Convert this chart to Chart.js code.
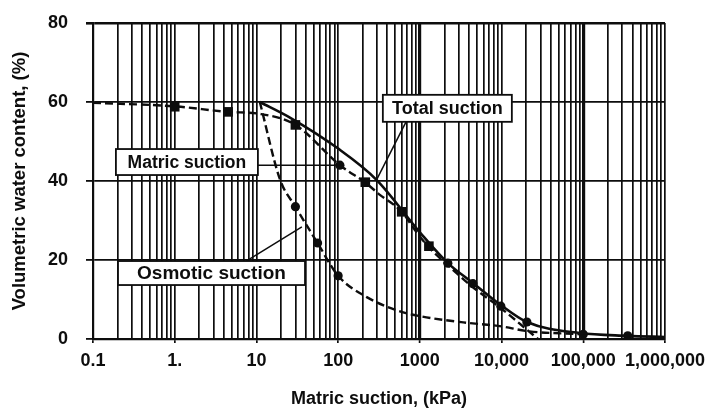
<!DOCTYPE html>
<html><head><meta charset="utf-8">
<script src="https://cdn.jsdelivr.net/npm/chart.js@4/dist/chart.umd.min.js"></script>
<style>html,body{margin:0;padding:0;background:#fff}</style>
</head><body>
<canvas id="c" width="716" height="410"></canvas>
<script>
// ---- data ----
const xTickValues = [0.1, 1, 10, 100, 1000, 10000, 100000, 1000000];
const xTickLabels = ['0.1', '1.', '10', '100', '1000', '10,000', '100,000', '1,000,000'];
const yTickValues = [0, 20, 40, 60, 80];

const matricX = [0.1, 1, 4.5, 11, 30, 105, 215, 324, 600, 870, 1290, 2200, 4400, 9800, 28000];
const matricY = [59.8, 58.9, 57.5, 57, 54.2, 44, 39.6, 36.5, 32.2, 27.6, 23.2, 18.7, 13.2, 7.8, 0];

const totalX = [11, 26, 97, 295, 1000, 2200, 4460, 9800, 20400, 91000, 350000, 1000000];
const totalY = [60, 56, 48.4, 40.3, 27, 19.2, 14.2, 8.6, 4.3, 1.5, 0.8, 0.5];

const osmoticX = [11, 19.5, 30, 56, 100, 224, 570, 1000, 3400, 10000, 20400, 100000];
const osmoticY = [60, 40.3, 33.5, 24.3, 16, 10.6, 7, 5.8, 4.2, 3.2, 2, 1.2];

const squareX = [1, 4.5, 30, 215, 600, 1290];
const squareY = [58.8, 57.5, 54.2, 39.7, 32.2, 23.5];

const circleX = [105, 2200, 4460, 9800, 20400, 100000, 350000, 30, 56, 100];
const circleY = [44, 19.2, 14, 8.3, 4.3, 1.2, 0.8, 33.5, 24.3, 16];

const labelTexts = ['Matric suction', 'Total suction', 'Osmotic suction'];

// ---- helpers ----
const pts = (xs, ys) => xs.map((x, i) => ({x, y: ys[i]}));
const isDecade = v => Math.abs(Math.log10(v) - Math.round(Math.log10(v))) < 1e-9;
const gridVals = [];
for (let e = -1; e <= 5; e++) for (let k = 1; k <= 9; k++) gridVals.push(Number((k * Math.pow(10, e)).toPrecision(3)));
gridVals.push(1000000);

const FONT = 'Liberation Sans, Arial, Helvetica, sans-serif';
const INK = '#0d0d0d';

// label annotation layout (data-space anchors)
const notes = [
  {text: labelTexts[0], size: 17.5, cx: 1.41, cy: 44.8, w: 142, h: 26, fromX: 10.4, fromY: 44, toX: 105, toY: 44},
  {text: labelTexts[1], size: 18, cx: 2170, cy: 58.4, w: 129, h: 27, fromX: 675, fromY: 54.9, toX: 295, toY: 40.3},
  {text: labelTexts[2], size: 19, cx: 2.82, cy: 16.7, w: 187, h: 24, fromX: 6.84, fromY: 19.2, toX: 36, toY: 28.4}
];

const notePlugin = {
  id: 'notes',
  afterDatasetsDraw(chart) {
    const {ctx, scales: {x, y}} = chart;
    ctx.save();
    ctx.strokeStyle = INK;
    ctx.lineWidth = 1.5;
    notes.forEach(n => {
      ctx.beginPath();
      ctx.moveTo(x.getPixelForValue(n.fromX), y.getPixelForValue(n.fromY));
      ctx.lineTo(x.getPixelForValue(n.toX), y.getPixelForValue(n.toY));
      ctx.stroke();
    });
    notes.forEach(n => {
      const px = x.getPixelForValue(n.cx), py = y.getPixelForValue(n.cy);
      ctx.fillStyle = '#fff';
      ctx.fillRect(px - n.w / 2, py - n.h / 2, n.w, n.h);
      ctx.lineWidth = 1.8;
      ctx.strokeRect(px - n.w / 2, py - n.h / 2, n.w, n.h);
      ctx.fillStyle = INK;
      ctx.font = 'bold ' + n.size + 'px ' + FONT;
      ctx.textAlign = 'center';
      ctx.textBaseline = 'middle';
      ctx.fillText(n.text, px, py + 1);
    });
    ctx.restore();
  }
};

new Chart(document.getElementById('c'), {
  type: 'line',
  data: {
    datasets: [
      {label: 'Matric suction', data: pts(matricX, matricY), borderColor: INK, borderWidth: 2.4, borderDash: [8, 4], pointRadius: 0, cubicInterpolationMode: 'monotone', fill: false},
      {label: 'Total suction', data: pts(totalX, totalY), borderColor: INK, borderWidth: 2.6, pointRadius: 0, cubicInterpolationMode: 'monotone', fill: false},
      {label: 'Osmotic suction', data: pts(osmoticX, osmoticY), borderColor: INK, borderWidth: 2.4, borderDash: [8, 4], pointRadius: 0, cubicInterpolationMode: 'monotone', fill: false},
      {type: 'scatter', label: 'sq', data: pts(squareX, squareY), pointStyle: 'rect', pointRadius: 6.8, backgroundColor: INK, borderColor: INK, borderWidth: 0, showLine: false},
      {type: 'scatter', label: 'ci', data: pts(circleX, circleY), pointStyle: 'circle', pointRadius: 4.6, backgroundColor: INK, borderColor: INK, borderWidth: 0, showLine: false}
    ]
  },
  options: {
    responsive: false,
    devicePixelRatio: 1,
    animation: false,
    events: [],
    layout: {padding: {left: 0, right: 51, top: 23, bottom: 0}},
    plugins: {legend: {display: false}, tooltip: {enabled: false}},
    scales: {
      x: {
        type: 'logarithmic', min: 0.1, max: 1000000,
        afterBuildTicks: s => { s.ticks = gridVals.map(v => ({value: v})); },
        afterFit: s => { s.height = 71; },
        ticks: {
          autoSkip: false, maxRotation: 0, minRotation: 0, padding: 7, color: INK,
          font: {family: FONT, size: 18, weight: 'bold'},
          callback: v => { const i = xTickValues.findIndex(t => Math.abs(t - v) < 1e-9 * Math.max(1, v)); return i >= 0 ? xTickLabels[i] : ''; }
        },
        grid: {
          color: INK,
          lineWidth: c => { const v = c.tick ? c.tick.value : 0; return (v === 1000 || v === 100000) ? 3.2 : 1.7; },
          tickLength: 4,
          tickColor: c => (c.tick && isDecade(c.tick.value)) ? INK : 'rgba(0,0,0,0)',
          tickWidth: 1.7
        },
        border: {display: true, color: INK, width: 2.2},
        title: {display: true, text: 'Matric suction, (kPa)', color: INK, font: {family: FONT, size: 18, weight: 'bold'}, padding: {top: 0, bottom: 0}}
      },
      y: {
        min: 0, max: 80,
        afterBuildTicks: s => { s.ticks = yTickValues.map(v => ({value: v})); },
        afterFit: s => { s.width = 93; s.paddingTop = 0; s.paddingBottom = 0; },
        ticks: {padding: 18, color: INK, font: {family: FONT, size: 18, weight: 'bold'}},
        grid: {color: INK, lineWidth: c => (c.tick && c.tick.value === 80) ? 2.6 : 1.8, tickLength: 7},
        border: {display: true, color: INK, width: 2.2},
        title: {display: true, text: 'Volumetric water content, (%)', color: INK, font: {family: FONT, size: 18.5, weight: 'bold'}, padding: {top: 9, bottom: 0}}
      }
    }
  },
  plugins: [notePlugin]
});
</script>
</body></html>
